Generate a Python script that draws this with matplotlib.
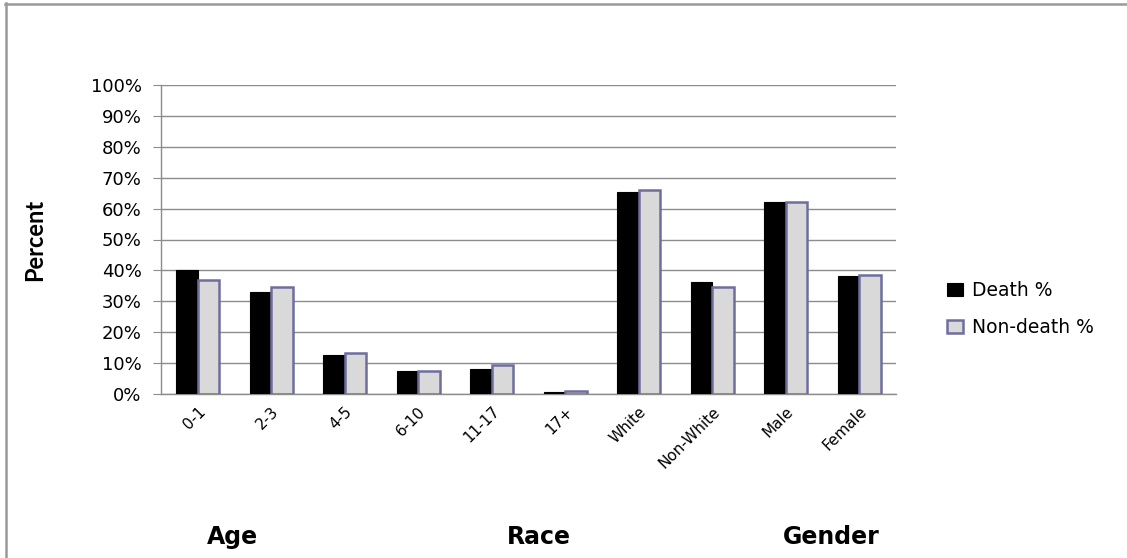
import matplotlib
matplotlib.use("Agg")
import matplotlib.pyplot as plt
import numpy as np
from matplotlib.lines import Line2D

categories = ["0-1", "2-3", "4-5", "6-10", "11-17", "17+",
              "White", "Non-White", "Male", "Female"]
death_pct = [40, 33, 12.5, 7.3, 8, 0.5, 65.3, 36.3, 62, 38.2]
nondeath_pct = [37, 34.5, 13.3, 7.5, 9.5, 0.9, 66, 34.5, 62.2, 38.4]
series_names = ["Death %", "Non-death %"]
groups = [("Age", 0.206), ("Race", 0.478), ("Gender", 0.738)]
yticks = list(range(0, 101, 10))

W, H = 1127, 558
fig = plt.figure(figsize=(W / 100, H / 100), dpi=100)
ax = fig.add_axes([161 / W, 1 - 394 / H, (896 - 161) / W, (394 - 85) / H])

x = np.arange(len(categories))
w = 0.29
ax.bar(x - w / 2, death_pct, width=w, color="black", edgecolor="black",
       linewidth=0.8, label=series_names[0], zorder=3)
ax.bar(x + w / 2, nondeath_pct, width=w, color="#d9d9d9", edgecolor="#6e6e9e",
       linewidth=1.8, label=series_names[1], zorder=3)

ax.set_xlim(-0.5, len(categories) - 0.5)
ax.set_ylim(0, 100)
ax.set_yticks(yticks)
ax.set_yticklabels([f"{t}%" for t in yticks], fontsize=13)
ax.yaxis.grid(True, color="#8c8c8c", linewidth=1.0, zorder=0)
ax.set_axisbelow(True)
ax.tick_params(axis="y", direction="out", length=6, color="#8c8c8c", pad=8)
ax.set_xticks(x)
ax.set_xticklabels(categories, rotation=45, ha="right", rotation_mode="anchor",
                   fontsize=11)
ax.tick_params(axis="x", length=0, pad=7)
for s in ("top", "right"):
    ax.spines[s].set_visible(False)
for s in ("left", "bottom"):
    ax.spines[s].set_color("#8c8c8c")
    ax.spines[s].set_linewidth(1.0)

ax.set_ylabel("Percent", fontsize=17, fontweight="bold", family="Lato")
ax.yaxis.set_label_coords((46 - 161) / 735, 0.5)

leg = ax.legend(loc="upper left", bbox_to_anchor=(1.047, 0.42), frameon=False,
                fontsize=13.5, handlelength=0.85, handleheight=0.75,
                handletextpad=0.45, labelspacing=0.95)

for name, xf in groups:
    fig.text(xf, 1 - 537 / H, name, fontsize=17, fontweight="bold",
             ha="center", va="center")

# chart frame: top and left edges
frame_kw = dict(transform=fig.transFigure, color="#999999", linewidth=1.8)
fig.add_artist(Line2D([5 / W, 1], [1 - 3.5 / H, 1 - 3.5 / H], **frame_kw))
fig.add_artist(Line2D([5.5 / W, 5.5 / W], [0, 1 - 3 / H], **frame_kw))

fig.savefig("out.png", dpi=100)
